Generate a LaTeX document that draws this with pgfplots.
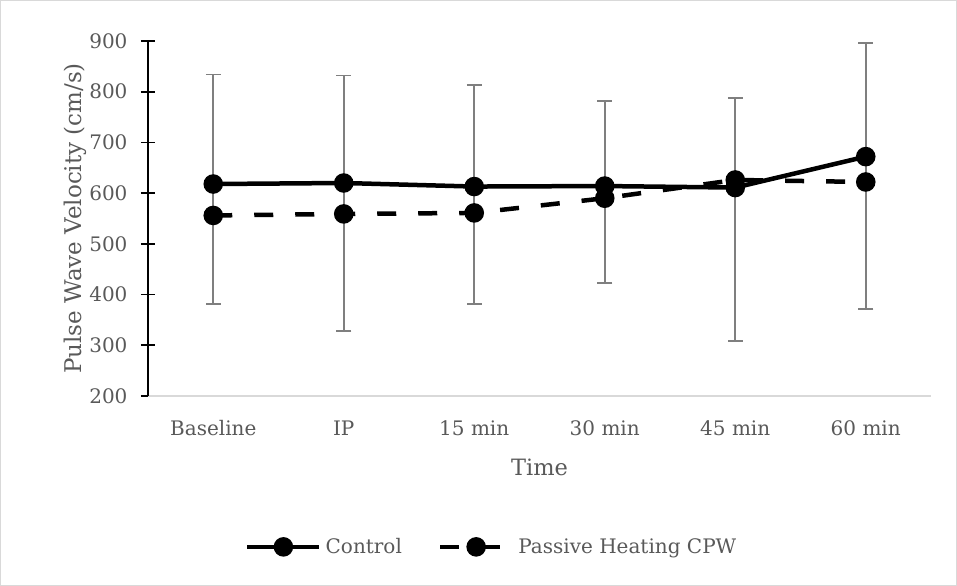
\documentclass[border=0pt]{standalone}
\usepackage{pgfplots}
\pgfplotsset{compat=1.18}
\usepackage{pgfplotstable}
\usepackage{fontspec}
\setmainfont{DejaVu Serif}
\definecolor{txt}{HTML}{595959}
\definecolor{errc}{HTML}{7F7F7F}
\definecolor{frame}{HTML}{D9D9D9}
\pgfplotstableread{
x ctrl passive top bottom
0 618 556 834 381
1 620 559 832 328
2 613 561 813 381
3 614 590 782 423
4 611 626 788 309
5 672 622 896 372
}\data
\pgfplotstablecreatecol[create col/expr={\thisrow{top}-\thisrow{ctrl}}]{ep}\data
\pgfplotstablecreatecol[create col/expr={\thisrow{ctrl}-\thisrow{bottom}}]{em}\data
\begin{document}
\begin{tikzpicture}
\draw[frame, line width=1bp] (0.5bp,0.5bp) rectangle (956.5bp,585.5bp);
\begin{axis}[
  at={(148bp,190bp)}, anchor=south west,
  scale only axis, width=783bp, height=355bp,
  xmin=-0.5, xmax=5.5, ymin=200, ymax=900,
  ytick={200,300,...,900},
  xtick={0,...,5},
  xticklabels={Baseline,IP,15 min,30 min,45 min,60 min},
  axis x line*=bottom, axis y line*=left,
  x axis line style={draw=frame, line width=1.2bp, -},
  y axis line style={draw=black, line width=1.6bp, -},
  major x tick style={draw=none},
  major y tick style={draw=black, line width=1.6bp},
  tick align=center, major tick length=14bp,
  font=\fontsize{20bp}{24bp}\selectfont,
  ticklabel style={text=txt},
  /pgf/number format/assume math mode=true,
  yticklabel style={xshift=-10bp},
  xticklabel style={yshift=-14bp},
  xlabel={\fontsize{22.5bp}{26bp}\selectfont Time},
  ylabel={\fontsize{23bp}{27bp}\selectfont Pulse Wave Velocity (cm/s)},
  label style={text=txt},
  xlabel style={at={(axis description cs:0.5,-0.2)}, anchor=center},
  ylabel style={at={(axis description cs:-0.106,0.5)}, anchor=center, yshift=-10bp},
  legend columns=2,
  legend style={at={(axis description cs:0.439,-0.425)}, anchor=center, draw=none, fill=none, text=txt,
    font=\fontsize{20bp}{24bp}\selectfont,
    /tikz/every even column/.append style={column sep=34bp},
    /tikz/every odd column/.append style={column sep=2bp}},
  legend image code/.code={\draw[mark repeat=2,mark phase=2,#1] plot coordinates {(0bp,0bp) (36bp,0bp) (72bp,0bp)};},
  clip=false,
]
\addplot[draw=none, mark=none, forget plot,
  error bars/.cd, y dir=both, y explicit,
  error bar style={draw=errc, line width=1.6bp},
  error mark options={draw=errc, line width=1.6bp, mark size=7.5bp, rotate=90}]
  table[x=x, y=ctrl, y error plus=ep, y error minus=em]{\data};
\addplot[black, line width=4.5bp, mark=*, mark size=7.5bp, mark options={solid}]
  table[x=x, y=ctrl]{\data};
\addlegendentry{Control}
\addplot[black, line width=4.5bp, dash pattern=on 19bp off 22bp, mark=*, mark size=7.5bp, mark options={solid}]
  table[x=x, y=passive]{\data};
\addlegendentry{Passive Heating CPW}
\end{axis}
\end{tikzpicture}
\end{document}
